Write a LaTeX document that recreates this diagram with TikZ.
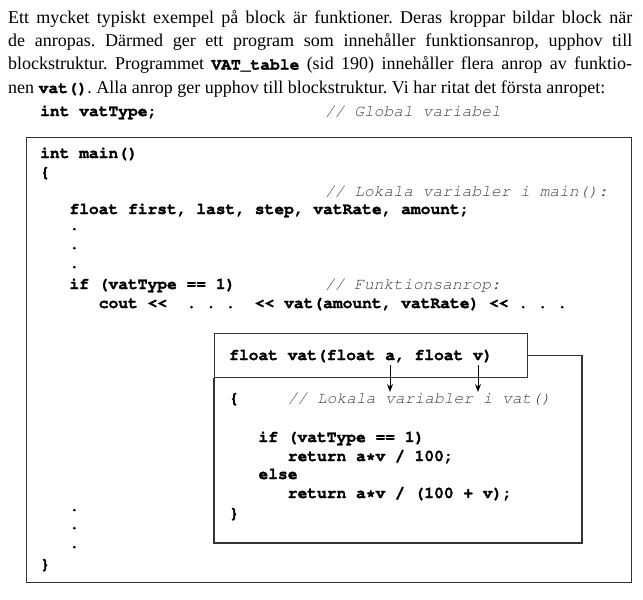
\documentclass[tikz,border=0pt]{standalone}
\usepackage[T1]{fontenc}
\usepackage{fontspec}
\setmainfont{Liberation Serif}
\usetikzlibrary{arrows.meta}
\newcommand{\crfont}{\fontencoding{T1}\fontfamily{pcr}\selectfont}
\newcommand{\heavyon}{\special{pdf:literal direct 2 Tr 0.25 w}}
\newcommand{\heavyoff}{\special{pdf:literal direct 0 Tr}}
\newcommand{\cb}[1]{{\fontsize{16.26}{18}\crfont\bfseries\heavyon #1\heavyoff}}
\newcommand{\shl}{<{}<}
\frenchspacing
\begin{document}
\begin{tikzpicture}[x=1pt,y=-1pt,
  code/.style={anchor=base west,inner sep=0pt,font=\fontsize{16.26}{18.75}\crfont\bfseries,
    execute at begin node=\heavyon, execute at end node=\heavyoff},
  cmt/.style={anchor=base west,inner sep=0pt,text=black!75,font=\fontsize{16.26}{18.75}\crfont\mdseries\slshape},
  prose/.style={anchor=base west,inner sep=0pt,font=\fontsize{18}{23}\selectfont},
  boxline/.style={draw=black!80,line width=1.4pt},
  inline/.style={draw=black!80,line width=1.1pt},
  arr/.style={-{Stealth[length=8pt,width=6pt]},line width=1pt}]
\useasboundingbox (0,0) rectangle (643,600);
% paragraph
\node[prose] (p1) at (8,23) {\makebox[624pt][s]{Ett mycket typiskt exempel på block är funktioner. Deras kroppar bildar block när}};
\node[prose] (p2) at (8,46.3) {\makebox[624pt][s]{de anropas. Därmed ger ett program som innehåller funktionsanrop, upphov till}};
\node[prose] (p3) at (8,69.6) {\makebox[624pt][s]{blockstruktur. Programmet \cb{VAT\_table} (sid 190) innehåller flera anrop av funktio-}};
\node[prose] (p4) at (8,93) {nen \cb{vat()}. Alla anrop ger upphov till blockstruktur. Vi har ritat det första anropet:};
% global
\node[code] (g1) at (40,116) {int vatType;};
\node[cmt] (g2) at (325,116) {// Global variabel};
% outer box
\node[boxline,anchor=north west,minimum width=605pt,minimum height=445pt,inner sep=0pt] (outer) at (26,137) {};
% main
\node[code] (m1) at (40,158) {int main()};
\node[code] (m2) at (40,177) {\{};
\node[cmt] (m3) at (325,196) {// Lokala variabler i main():};
\node[code] (m4) at (69.3,214) {float first, last, step, vatRate, amount;};
\node[code] (d1) at (69.3,230) {.};
\node[code] (d2) at (69.3,249) {.};
\node[code] (d3) at (69.3,268) {.};
\node[code] (m5) at (69.3,289) {if (vatType == 1)};
\node[cmt] (m6) at (325,289) {// Funktionsanrop:};
\node[code] (m7) at (98.6,308) {cout \shl~~.~.~.~~\shl{} vat(amount, vatRate) \shl{} .~.~.};
\node[code] (d4) at (69.3,511) {.};
\node[code] (d5) at (69.3,529) {.};
\node[code] (d6) at (69.3,548) {.};
\node[code] (m8) at (40,569) {\}};
% function
\node[inline,anchor=north west,minimum width=313pt,minimum height=44pt,inner sep=0pt] (hdr) at (214,333) {};
\draw[inline] (hdr.east) -| (582,543) -- (214,543) -- (hdr.south west);
\node[code] (f1) at (229,360) {float vat(float a, float v)};
\node[code] (f2) at (229,403) {\{};
\node[cmt] (f3) at (287.6,403) {// Lokala variabler i vat()};
\node[code] (f4) at (258.3,442) {if (vatType == 1)};
\node[code] (f5) at (287.6,461) {return a*v / 100;};
\node[code] (f6) at (258.3,479) {else};
\node[code] (f7) at (287.6,498) {return a*v / (100 + v);};
\node[code] (f8) at (229,518) {\}};
\coordinate (aS) at (390,365);
\coordinate (aE) at (390,392);
\coordinate (vS) at (478,365);
\coordinate (vE) at (478,392);
\draw[arr] (aS) -- (aE);
\draw[arr] (vS) -- (vE);
\end{tikzpicture}
\end{document}
